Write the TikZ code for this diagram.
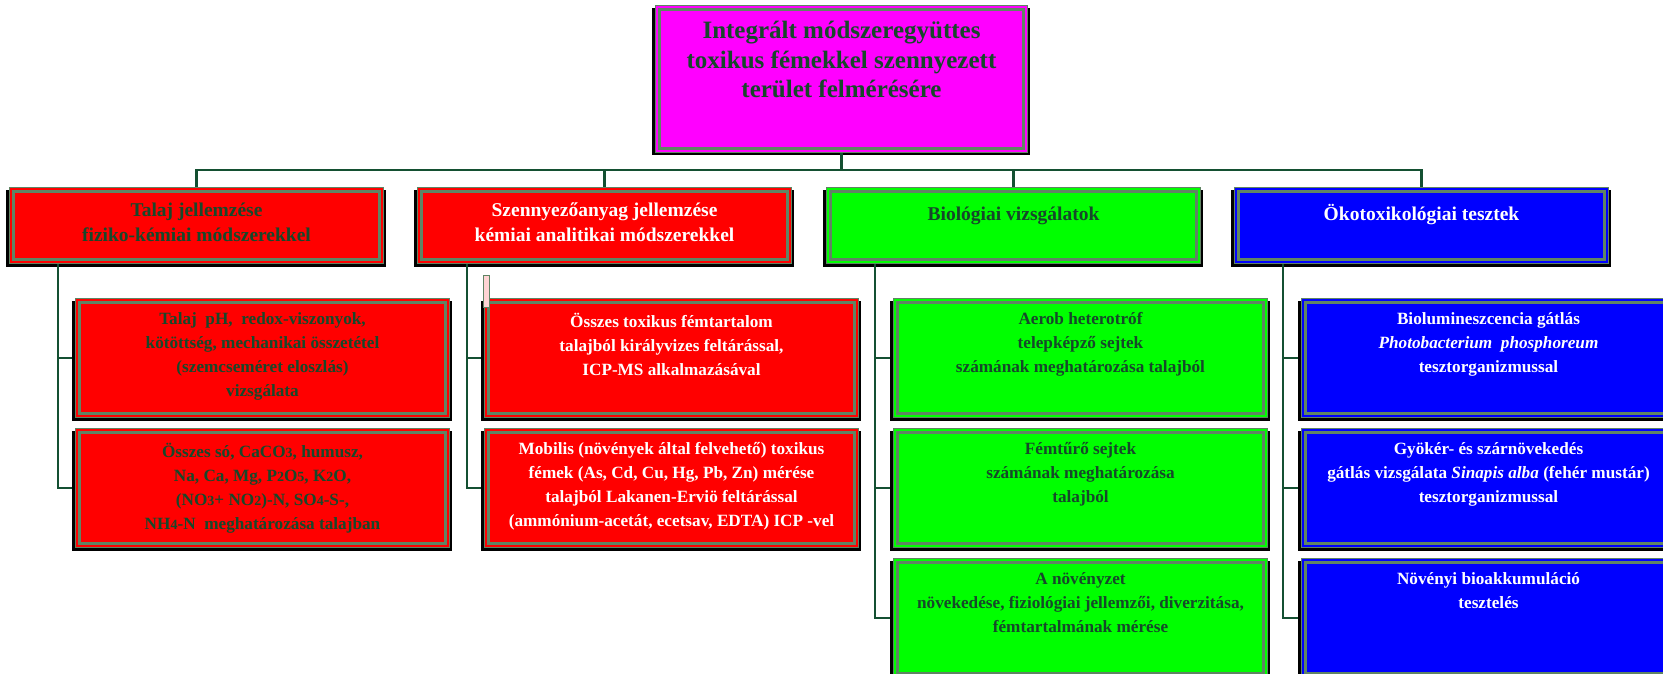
\documentclass[tikz,border=0pt]{standalone}
\usepackage{fontspec}
\setmainfont{Liberation Serif}
\definecolor{gg}{RGB}{96,132,100}
\definecolor{connc}{RGB}{20,80,50}
\definecolor{dtxt}{RGB}{22,72,42}
\definecolor{pinkish}{RGB}{255,212,212}
\definecolor{fmag}{RGB}{255,0,255}
\definecolor{fred}{RGB}{255,0,0}
\definecolor{fgreen}{RGB}{0,255,0}
\definecolor{fblue}{RGB}{0,0,255}
\tikzset{
  boxbase/.style={draw=gg, line width=1pt, inner sep=0pt, anchor=north west},
  txtbase/.style={anchor=north, align=center, inner sep=0pt, execute at begin node=\strut},
  toptxt/.style={txtbase, font=\bfseries\fontsize{25}{29.5}\selectfont},
  hdtxt/.style={txtbase, font=\bfseries\fontsize{19.5}{25}\selectfont},
  chtxt/.style={txtbase, font=\bfseries\fontsize{17.2}{24}\selectfont},
  connline/.style={draw=connc, line width=2.5pt},
}
\newcommand\mkbox[6]{%
  \fill[black] (#2-3,#3+3) rectangle (#2+#4+2.5,#3+#5+3.5);
  \node[boxbase, fill=#6, minimum width=#4pt, minimum height=#5pt] (#1) at (#2,#3) {};
  \draw[gg, line width=2.6pt] ([shift={(4.5,4.5)}]#1.north west) rectangle ([shift={(-4.5,-4.5)}]#1.south east);
}
\newcommand\sd[1]{{\fontsize{14}{14}\selectfont #1}}
\begin{document}
\begin{tikzpicture}[x=1pt,y=-1pt]
\useasboundingbox (0,0) rectangle (1663,674);
\clip (0,0) rectangle (1663,674);
% boxes
\mkbox{top}{655}{5}{372}{147}{fmag}
\mkbox{h1}{9}{187}{374}{76}{fred}
\mkbox{h2}{417}{187}{374}{76}{fred}
\mkbox{h3}{826}{187}{374}{76}{fgreen}
\mkbox{h4}{1234}{187}{374}{76}{fblue}
\mkbox{c11}{75}{298}{374}{119}{fred}
\mkbox{c12}{75}{428}{374}{119}{fred}
\mkbox{c21}{484}{298}{374}{119}{fred}
\mkbox{c22}{484}{428}{374}{119}{fred}
\mkbox{c31}{893}{298}{374}{119}{fgreen}
\mkbox{c32}{893}{428}{374}{119}{fgreen}
\mkbox{c33}{893}{558}{374}{119}{fgreen}
\mkbox{c41}{1301}{298}{374}{119}{fblue}
\mkbox{c42}{1301}{428}{374}{119}{fblue}
\mkbox{c43}{1301}{558}{374}{119}{fblue}
\node[draw=gg, fill=pinkish, line width=0.8pt, minimum width=6pt, minimum height=32pt, inner sep=0pt, anchor=north west] (mark) at (483,275) {};
% texts
\node[toptxt, text=dtxt] (ttop) at ([shift={(0,16)}]top.north) {Integrált módszeregyüttes\\toxikus fémekkel szennyezett\\terület felmérésére};
\node[hdtxt, text=dtxt] (th1) at ([shift={(0,15.5)}]h1.north) {Talaj jellemzése\\fiziko-kémiai módszerekkel};
\node[hdtxt, text=white] (th2) at ([shift={(0,15.5)}]h2.north) {Szennyezőanyag jellemzése\\kémiai analitikai módszerekkel};
\node[hdtxt, text=dtxt] (th3) at ([shift={(0,15.5)}]h3.north) {Biológiai vizsgálatok};
\node[hdtxt, text=white] (th4) at ([shift={(0,15.5)}]h4.north) {Ökotoxikológiai tesztek};
\node[chtxt, text=dtxt] (tc11) at ([shift={(0,14.5)}]c11.north) {Talaj\ \ pH,\ \ redox-viszonyok,\\kötöttség, mechanikai összetétel\\(szemcseméret eloszlás)\\vizsgálata};
\node[chtxt, text=dtxt] (tc12) at ([shift={(0,14.5)}]c12.north) {Összes só, CaCO\sd{3}, humusz,\\Na, Ca, Mg, P\sd{2}O\sd{5}, K\sd{2}O,\\(NO\sd{3}+ NO\sd{2})-N, SO\sd{4}-S-,\\NH\sd{4}-N\ \ meghatározása talajban};
\node[chtxt, text=white] (tc21) at ([shift={(0,14.5)}]c21.north) {Összes toxikus fémtartalom\\talajból királyvizes feltárással,\\ICP-MS alkalmazásával};
\node[chtxt, text=white] (tc22) at ([shift={(0,14.5)}]c22.north) {Mobilis (növények által felvehető) toxikus\\fémek (As, Cd, Cu, Hg, Pb, Zn) mérése\\talajból Lakanen-Erviö feltárással\\(ammónium-acetát, ecetsav, EDTA) ICP -vel};
\node[chtxt, text=dtxt] (tc31) at ([shift={(0,14.5)}]c31.north) {Aerob heterotróf\\telepképző sejtek\\számának meghatározása talajból};
\node[chtxt, text=dtxt] (tc32) at ([shift={(0,14.5)}]c32.north) {Fémtűrő sejtek\\számának meghatározása\\talajból};
\node[chtxt, text=dtxt] (tc33) at ([shift={(0,14.5)}]c33.north) {A növényzet\\növekedése, fiziológiai jellemzői, diverzitása,\\fémtartalmának mérése};
\node[chtxt, text=white] (tc41) at ([shift={(0,14.5)}]c41.north) {Biolumineszcencia gátlás\\\textit{Photobacterium\ \ phosphoreum}\\tesztorganizmussal};
\node[chtxt, text=white] (tc42) at ([shift={(0,14.5)}]c42.north) {Gyökér- és szárnövekedés\\gátlás vizsgálata \textit{Sinapis alba} (fehér mustár)\\tesztorganizmussal};
\node[chtxt, text=white] (tc43) at ([shift={(0,14.5)}]c43.north) {Növényi bioakkumuláció\\tesztelés};
% connectors
\coordinate (bus) at (0,170);
\draw[connline] (top.south) -- (top.south |- bus);
\draw[connline] (h1.north) -- (h1.north |- bus) -- (h4.north |- bus) -- (h4.north);
\draw[connline] (h2.north) -- (h2.north |- bus);
\draw[connline] (h3.north) -- (h3.north |- bus);
\coordinate (v1) at ([shift={(49,0)}]h1.south west);
\coordinate (v2) at ([shift={(50,0)}]h2.south west);
\coordinate (v3) at ([shift={(49,0)}]h3.south west);
\coordinate (v4) at ([shift={(49,0)}]h4.south west);
\draw[connline] (v1) |- ([shift={(-3,0)}]c11.west);
\draw[connline] (v1) |- ([shift={(-3,0)}]c12.west);
\draw[connline] (v2) |- ([shift={(-3,0)}]c21.west);
\draw[connline] (v2) |- ([shift={(-3,0)}]c22.west);
\draw[connline] (v3) |- ([shift={(-3,0)}]c31.west);
\draw[connline] (v3) |- ([shift={(-3,0)}]c32.west);
\draw[connline] (v3) |- ([shift={(-3,0)}]c33.west);
\draw[connline] (v4) |- ([shift={(-3,0)}]c41.west);
\draw[connline] (v4) |- ([shift={(-3,0)}]c42.west);
\draw[connline] (v4) |- ([shift={(-3,0)}]c43.west);
\end{tikzpicture}
\end{document}
